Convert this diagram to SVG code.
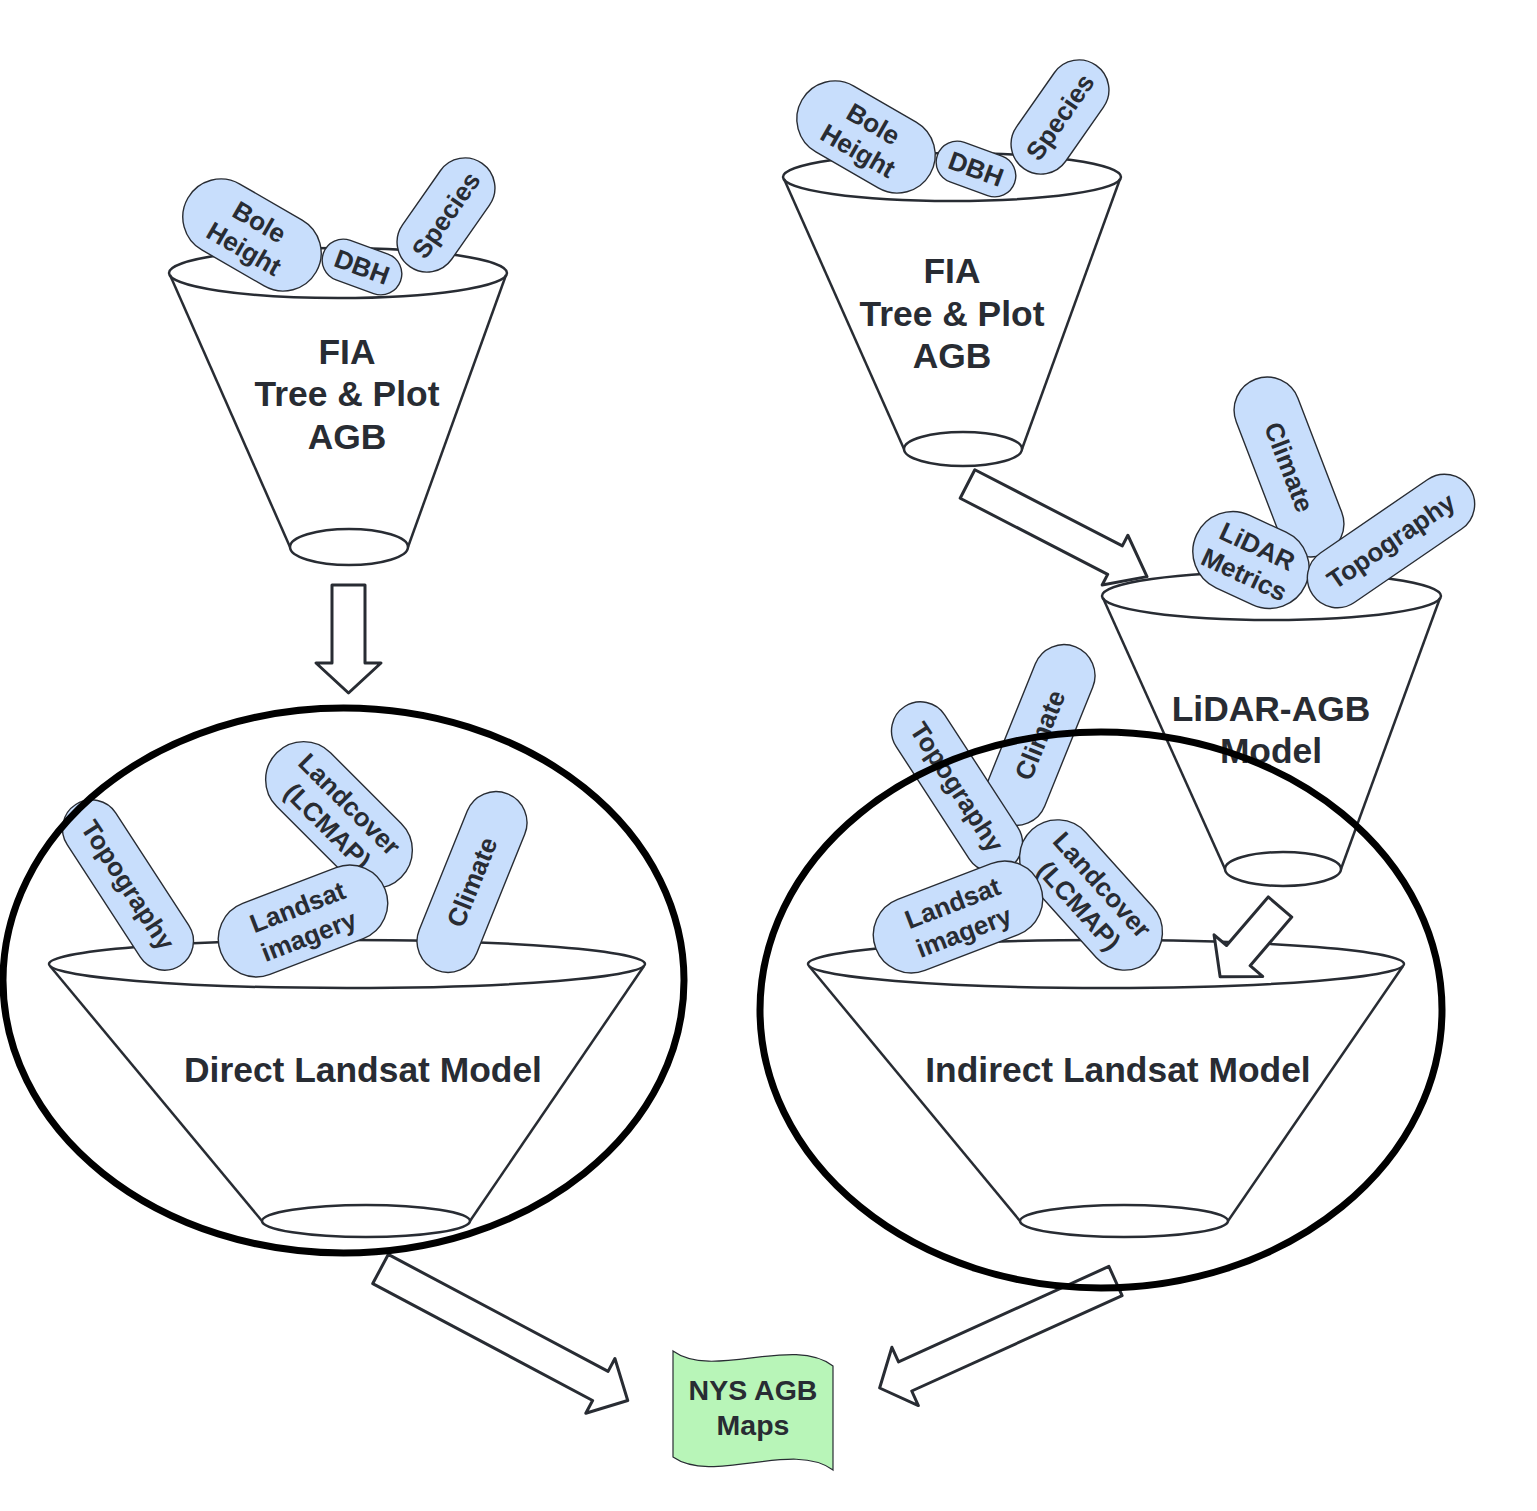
<svg xmlns="http://www.w3.org/2000/svg" width="1537" height="1511" viewBox="0 0 1537 1511">
<style>
.fw{fill:#ffffff;stroke:none}
.fl{fill:none;stroke:#282c33;stroke-width:2.5}
.pill rect{fill:#c8defc;stroke:#282c33;stroke-width:1.4}
.pt{font-family:"Liberation Sans",Arial,sans-serif;font-weight:bold;font-size:26px;fill:#282c33;text-anchor:middle}
.big{font-family:"Liberation Sans",Arial,sans-serif;font-weight:bold;font-size:35.4px;fill:#282c33;text-anchor:middle}
.arr{fill:#ffffff;stroke:#282c33;stroke-width:3;stroke-linejoin:round}
.ring{fill:none;stroke:#000000;stroke-width:7}
</style>
<rect width="1537" height="1511" fill="#ffffff"/>

<g id="funnel-fia-1">
<polygon class="fw" points="169,273 290,547 408,547 507,273"/>
<ellipse class="fw" cx="338" cy="273" rx="169" ry="25"/>
<line class="fl" x1="170" y1="275" x2="290" y2="547"/>
<line class="fl" x1="506" y1="275" x2="408" y2="547"/>
<ellipse class="fl" cx="338" cy="273" rx="169" ry="25"/>
<ellipse class="fl" cx="349" cy="547" rx="59" ry="18"/>
<text class="big"><tspan x="347" y="364">FIA</tspan><tspan x="347" y="406">Tree &amp; Plot</tspan><tspan x="347" y="449">AGB</tspan></text>
<g class="pill" transform="translate(252,235) rotate(30)"><rect x="-74" y="-38" width="148" height="76" rx="38"/><text class="pt"><tspan x="0" y="-6">Bole</tspan><tspan x="0" y="25">Height</tspan></text></g>
<g class="pill" transform="translate(362,267) rotate(20)"><rect x="-41" y="-21" width="82" height="42" rx="21"/><text class="pt" x="0" y="9">DBH</text></g>
<g class="pill" transform="translate(446,215) rotate(-55)"><rect x="-63" y="-30" width="126" height="60" rx="30"/><text class="pt" x="0" y="9">Species</text></g>
</g>

<g id="funnel-fia-2">
<polygon class="fw" points="783,177 904,449 1022,449 1121,177"/>
<ellipse class="fw" cx="952" cy="177" rx="169" ry="24"/>
<line class="fl" x1="784" y1="179" x2="904" y2="449"/>
<line class="fl" x1="1120" y1="179" x2="1022" y2="449"/>
<ellipse class="fl" cx="952" cy="177" rx="169" ry="24"/>
<ellipse class="fl" cx="963" cy="449" rx="59" ry="17"/>
<text class="big"><tspan x="952" y="283">FIA</tspan><tspan x="952" y="326">Tree &amp; Plot</tspan><tspan x="952" y="368">AGB</tspan></text>
<g class="pill" transform="translate(866,137) rotate(30)"><rect x="-74" y="-38" width="148" height="76" rx="38"/><text class="pt"><tspan x="0" y="-6">Bole</tspan><tspan x="0" y="25">Height</tspan></text></g>
<g class="pill" transform="translate(976,169) rotate(20)"><rect x="-41" y="-21" width="82" height="42" rx="21"/><text class="pt" x="0" y="9">DBH</text></g>
<g class="pill" transform="translate(1060,117) rotate(-55)"><rect x="-63" y="-30" width="126" height="60" rx="30"/><text class="pt" x="0" y="9">Species</text></g>
</g>

<g id="funnel-lidar">
<polygon class="fw" points="1102,596 1225,869 1341,869 1441,596"/>
<ellipse class="fw" cx="1271.5" cy="596" rx="169.5" ry="24"/>
<line class="fl" x1="1103" y1="598" x2="1225" y2="869"/>
<line class="fl" x1="1440" y1="598" x2="1341" y2="869"/>
<ellipse class="fl" cx="1271.5" cy="596" rx="169.5" ry="24"/>
<ellipse class="fl" cx="1283" cy="869" rx="58" ry="17"/>
<text class="big"><tspan x="1271" y="721">LiDAR-AGB</tspan><tspan x="1271" y="763">Model</tspan></text>
<g class="pill" transform="translate(1289,467) rotate(69)"><rect x="-94" y="-33" width="188" height="66" rx="33"/><text class="pt" x="0" y="9">Climate</text></g>
<g class="pill" transform="translate(1251,560) rotate(25)"><rect x="-60" y="-40" width="120" height="80" rx="40"/><text class="pt"><tspan x="0" y="-6">LiDAR</tspan><tspan x="0" y="25">Metrics</tspan></text></g>
<g class="pill" transform="translate(1391,541) rotate(-34.4)"><rect x="-95" y="-30" width="190" height="60" rx="30"/><text class="pt" x="0" y="9">Topography</text></g>
</g>

<g id="funnel-direct">
<polygon class="fw" points="49,964 262,1221 470,1221 645,964"/>
<ellipse class="fw" cx="347" cy="964" rx="298" ry="24"/>
<line class="fl" x1="50" y1="966" x2="262" y2="1221"/>
<line class="fl" x1="644" y1="966" x2="470" y2="1221"/>
<ellipse class="fl" cx="347" cy="964" rx="298" ry="24"/>
<ellipse class="fl" cx="366" cy="1221" rx="104" ry="16"/>
<text class="big" x="363" y="1082">Direct Landsat Model</text>
<g class="pill" transform="translate(128,885) rotate(57)"><rect x="-96" y="-29" width="192" height="58" rx="29"/><text class="pt" x="0" y="9">Topography</text></g>
<g class="pill" transform="translate(339,815) rotate(45)"><rect x="-88" y="-38" width="176" height="76" rx="38"/><text class="pt"><tspan x="0" y="-6">Landcover</tspan><tspan x="0" y="25">(LCMAP)</tspan></text></g>
<g class="pill" transform="translate(303,921) rotate(-21)"><rect x="-88" y="-38" width="176" height="76" rx="38"/><text class="pt"><tspan x="0" y="-6">Landsat</tspan><tspan x="0" y="25">imagery</tspan></text></g>
<g class="pill" transform="translate(472,882) rotate(-68)"><rect x="-95" y="-31" width="190" height="62" rx="31"/><text class="pt" x="0" y="9">Climate</text></g>
</g>

<g id="funnel-indirect">
<polygon class="fw" points="808,964 1020,1221 1228,1221 1404,964"/>
<ellipse class="fw" cx="1106" cy="964" rx="298" ry="24"/>
<line class="fl" x1="809" y1="966" x2="1020" y2="1221"/>
<line class="fl" x1="1403" y1="966" x2="1228" y2="1221"/>
<ellipse class="fl" cx="1106" cy="964" rx="298" ry="24"/>
<ellipse class="fl" cx="1124" cy="1221" rx="104" ry="16"/>
<text class="big" x="1118" y="1082">Indirect Landsat Model</text>
<g class="pill" transform="translate(1040,735) rotate(-68)"><rect x="-95" y="-31" width="190" height="62" rx="31"/><text class="pt" x="0" y="9">Climate</text></g>
<g class="pill" transform="translate(957,787) rotate(57)"><rect x="-96" y="-29" width="192" height="58" rx="29"/><text class="pt" x="0" y="9">Topography</text></g>
<g class="pill" transform="translate(1091,895) rotate(48)"><rect x="-88" y="-38" width="176" height="76" rx="38"/><text class="pt"><tspan x="0" y="-6">Landcover</tspan><tspan x="0" y="25">(LCMAP)</tspan></text></g>
<g class="pill" transform="translate(958,917) rotate(-21)"><rect x="-88" y="-38" width="176" height="76" rx="38"/><text class="pt"><tspan x="0" y="-6">Landsat</tspan><tspan x="0" y="25">imagery</tspan></text></g>
</g>

<g id="connectors">
<polygon class="arr" transform="translate(348.5,585) rotate(90)" points="0,-16.5 78,-16.5 78,-32.5 108,0 78,32.5 78,16.5 0,16.5"/>
<polygon class="arr" transform="translate(967.5,484) rotate(27.3)" points="0,-16 166,-16 166,-28 202,0 166,28 166,16 0,16"/>
<polygon class="arr" transform="translate(1280,907) rotate(130.6)" points="0,-15.5 64,-15.5 64,-32 92,0 64,32 64,15.5 0,15.5"/>
<polygon class="arr" transform="translate(380.5,1269) rotate(28)" points="0,-16.5 249,-16.5 249,-31 280,0 249,31 249,16.5 0,16.5"/>
<polygon class="arr" transform="translate(1115.5,1281) rotate(155.6)" points="0,-16 231,-16 231,-32 259,0 231,32 231,16 0,16"/>
</g>

<g id="group-direct">
<ellipse class="ring" cx="343.5" cy="980.5" rx="340.5" ry="272.5"/>
</g>
<g id="group-indirect">
<ellipse class="ring" cx="1101" cy="1010" rx="341" ry="278"/>
</g>

<g id="nys-maps">
<path d="M673,1351 C713,1380 793,1335 833,1366 L833,1470 C793,1440 713,1485 673,1457 Z" fill="#b8f5b8" stroke="#282c33" stroke-width="1.2"/>
<text class="big" style="font-size:28.5px"><tspan x="753" y="1400">NYS AGB</tspan><tspan x="753" y="1435">Maps</tspan></text>
</g>
</svg>
